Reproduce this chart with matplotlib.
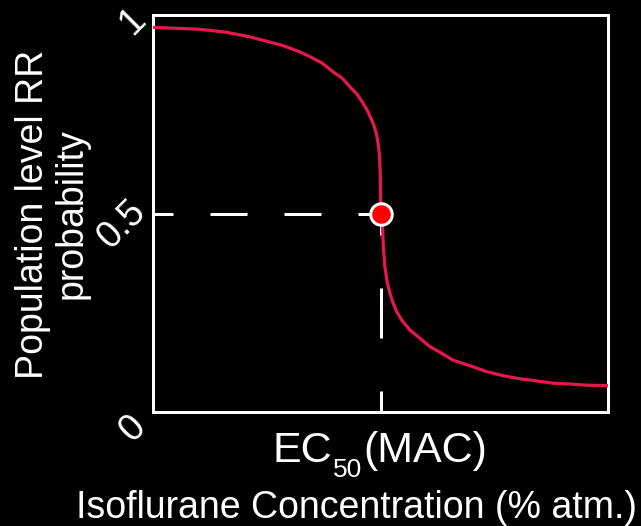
import numpy as np
import matplotlib
matplotlib.use('Agg')
import matplotlib.pyplot as plt
import matplotlib.transforms as mtransforms

# Dose-response curve, concentration in units of EC50 (MAC)
conc = [0.0, 0.205, 0.316, 0.425, 0.570, 0.645, 0.689, 0.742, 0.790, 0.830, 0.865,
        0.895, 0.922, 0.944, 0.966, 0.979, 0.988, 0.994, 0.997, 0.999,
        1.0,
        1.003, 1.008, 1.012, 1.018, 1.028, 1.040, 1.054, 1.070, 1.093, 1.128, 1.172,
        1.216, 1.260, 1.317, 1.392, 1.466, 1.537, 1.612, 1.682, 1.757, 1.832, 1.905, 2.0]
prob = [0.969, 0.964, 0.957, 0.945, 0.923, 0.907, 0.895, 0.879, 0.857, 0.841, 0.819,
        0.801, 0.778, 0.756, 0.728, 0.705, 0.678, 0.648, 0.610, 0.559,
        0.5,
        0.481, 0.459, 0.408, 0.366, 0.328, 0.300, 0.275, 0.253, 0.231, 0.207, 0.186,
        0.165, 0.151, 0.131, 0.117, 0.102, 0.092, 0.084, 0.079, 0.073, 0.071, 0.068, 0.067]
ec50 = 1.0
p50 = 0.5

ytick_vals = [0, 0.5, 1]
ytick_labels = ['0', '0.5', '1']
xlabel = 'Isoflurane Concentration (% atm.)'
ylabel = 'Population level RR\nprobability'

plt.rcParams['font.family'] = ['Liberation Sans', 'DejaVu Sans']
plt.rcParams['lines.scale_dashes'] = False

px = 0.72  # points per pixel at dpi 100

fig = plt.figure(figsize=(6.41, 5.26), dpi=100, facecolor='black')
ax = fig.add_axes([153.3 / 641, 1 - 412.2 / 526, 455 / 641, 397.2 / 526])
ax.set_facecolor('black')
ax.set_xlim(0, 2)
ax.set_ylim(0, 1)
for s in ax.spines.values():
    s.set_color('white')
    s.set_linewidth(3 * px)
ax.set_xticks([])
ax.set_yticks([])

# guide lines to the half-maximum point
ax.plot([0, ec50], [p50, p50], color='white', lw=3 * px,
        ls=(17 * px, (37 * px, 37 * px)), clip_on=False, zorder=2)
ax.plot([ec50, ec50], [0, p50], color='white', lw=3 * px,
        ls=(29 * px, (50 * px, 53 * px)), clip_on=False, zorder=2)

ax.plot(conc, prob, color='#E8174B', lw=3.2 * px, zorder=3)
ax.plot([ec50], [p50], 'o', ms=21.5 * px, mfc='#FF0000', mec='white',
        mew=3 * px, zorder=4, clip_on=False)

# rotated y tick labels
dys = [-9, 8, 1]
for v, lab, dy in zip(ytick_vals, ytick_labels, dys):
    tr = ax.get_yaxis_transform() + mtransforms.ScaledTranslation(
        -13 / 100, dy / 100, fig.dpi_scale_trans)
    ax.text(0, v, lab, transform=tr, rotation=45, rotation_mode='anchor',
            ha='right', va='center', color='white', fontsize=27)

# EC50(MAC) label under the EC50 position, with a lowered subscript
t1 = fig.text(272 / 641, 1 - 461.7 / 526, 'EC', ha='left', va='baseline',
              color='white', fontsize=31)
t2 = ax.annotate('50', xy=(1, 0), xycoords=t1, xytext=(1.0, -6.5 * px),
                 textcoords='offset points', ha='left', va='baseline',
                 color='white', fontsize=19)
t3 = ax.annotate('(MAC)', xy=(1, 0), xycoords=(t2, t1), xytext=(1.0, 0),
                 textcoords='offset points', ha='left', va='bottom',
                 color='white', fontsize=31)

fig.text(357 / 641, 1 - 518 / 526, xlabel, ha='center', va='baseline',
         color='white', fontsize=27)
fig.text(52 / 641, 1 - 214 / 526, ylabel, rotation=90, ha='center',
         va='center', color='white', fontsize=27, linespacing=1.1)

fig.savefig('out.png', dpi=100, facecolor='black')
